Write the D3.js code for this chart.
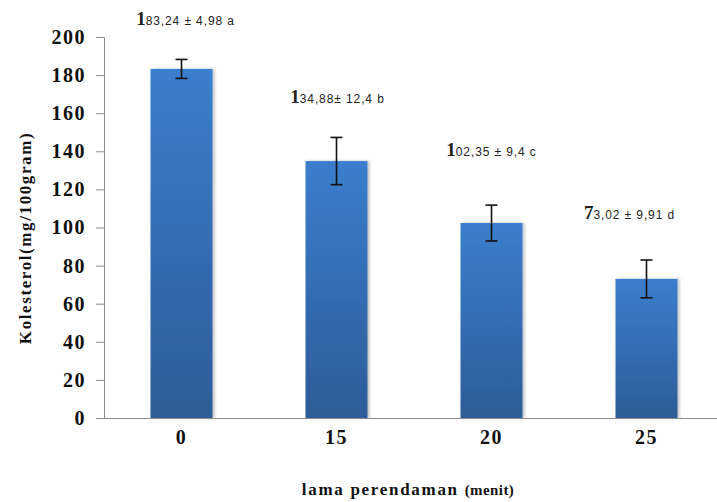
<!DOCTYPE html>
<html>
<head>
<meta charset="utf-8">
<script src="https://cdn.jsdelivr.net/npm/d3@7"></script>
<style>
	body { margin: 0; background: #fff; }
	.tick text { font-family: "Liberation Serif", serif; font-weight: bold; fill: #111; }
	.axis path, .axis line { stroke: #8c8c8c; }
</style>
</head>
<body>
<svg id="chart" width="717" height="502"></svg>
<script>
"use strict";

// Lama perendaman (menit) vs kolesterol
var categories = ["0", "15", "20", "25"];
var means = [183.24, 134.88, 102.35, 73.02];
var sds = [4.98, 12.4, 9.4, 9.91];
var letters = ["a", "b", "c", "d"];
// where the text annotation sits, in axis units
var labelAt = [209, 168, 140, 107];
var yTicks = [0, 20, 40, 60, 80, 100, 120, 140, 160, 180, 200];

var svg = d3.select("#chart");
var margin = {top: 37, left: 104, bottom: 84};
var height = +svg.attr("height") - margin.top - margin.bottom;

var x = d3.scaleBand()
	.domain(categories)
	.range([104, 724])
	.paddingInner(0.6)
	.paddingOuter(0.3);
var y = d3.scaleLinear()
	.domain([0, 200])
	.range([margin.top + height, margin.top]);

var defs = svg.append("defs");
var grad = defs.append("linearGradient")
	.attr("id", "barGrad")
	.attr("x1", 0).attr("y1", 0).attr("x2", 0).attr("y2", 1);
grad.append("stop").attr("offset", "0%").attr("stop-color", "#3b7ecd");
grad.append("stop").attr("offset", "100%").attr("stop-color", "#2d5c98");

var shadow = defs.append("filter").attr("id", "shadow")
	.attr("x", "-10%").attr("y", "-5%").attr("width", "125%").attr("height", "110%");
shadow.append("feDropShadow")
	.attr("dx", 2).attr("dy", 0).attr("stdDeviation", 1.5)
	.attr("flood-color", "#000").attr("flood-opacity", 0.25);

// Y axis
var yAxis = d3.axisLeft(y)
	.tickValues(yTicks)
	.tickSize(8)
	.tickPadding(10);
svg.append("g")
	.attr("class", "axis")
	.attr("transform", "translate(" + margin.left + ",0)")
	.call(yAxis)
	.call(function(g) {
		g.selectAll("text").style("font-size", "20px").style("letter-spacing", "1.5px");
	});

// Bars
svg.selectAll("rect.bar")
	.data(means)
	.enter()
	.append("rect")
	.attr("class", "bar")
	.attr("x", function(d, i) { return x(categories[i]); })
	.attr("y", function(d) { return y(d); })
	.attr("width", x.bandwidth())
	.attr("height", function(d) { return y(0) - y(d); })
	.attr("fill", "url(#barGrad)")
	.attr("filter", "url(#shadow)");

// X axis (no category ticks, just the baseline)
var xAxis = d3.axisBottom(x)
	.tickSize(0)
	.tickPadding(12);
svg.append("g")
	.attr("class", "axis")
	.attr("transform", "translate(0," + y(0) + ")")
	.call(xAxis)
	.call(function(g) {
		g.select(".domain").attr("d", "M" + (margin.left - 8) + ",0.5H724");
		g.selectAll("text").style("font-size", "20px").style("letter-spacing", "1.5px");
	});

// Error bars
var errs = svg.selectAll("g.err")
	.data(means)
	.enter()
	.append("g")
	.attr("class", "err")
	.attr("stroke", "#111")
	.attr("stroke-width", 1.6);
errs.each(function(d, i) {
	var g = d3.select(this);
	var cx = x(categories[i]) + x.bandwidth() / 2;
	var lo = y(d - sds[i]), hi = y(d + sds[i]);
	g.append("line").attr("x1", cx).attr("x2", cx).attr("y1", lo).attr("y2", hi);
	g.append("line").attr("x1", cx - 6).attr("x2", cx + 6).attr("y1", lo).attr("y2", lo);
	g.append("line").attr("x1", cx - 6).attr("x2", cx + 6).attr("y1", hi).attr("y2", hi);
});

// Mean ± sd annotations: the first digit is set larger than the rest
var fmt = function(v, dec) { return v.toFixed(dec).replace(".", ","); };
// the last text box sits a bit left of its bar in the original
var nudge = [4, 1, 0, -17];
var notes = svg.selectAll("text.note")
	.data(means)
	.enter()
	.append("text")
	.attr("class", "note")
	.attr("x", function(d, i) { return x(categories[i]) + x.bandwidth() / 2 + nudge[i]; })
	.attr("y", function(d, i) { return y(labelAt[i]) + 5; })
	.attr("text-anchor", "middle")
	.attr("fill", "#222");
notes.append("tspan")
	.style("font-family", "Liberation Serif, serif")
	.style("font-weight", "bold")
	.style("font-size", "19px")
	.text(function(d) { return fmt(d, 2).charAt(0); });
notes.append("tspan")
	.style("font-family", "Liberation Sans, sans-serif")
	.style("font-size", "12px")
	.style("letter-spacing", "0.9px")
	.text(function(d, i) {
		var s = fmt(d, 2).slice(1);
		var sd = String(sds[i]).replace(".", ",");
		return s + (i === 1 ? "\u00b1 " : " \u00b1 ") + sd + " " + letters[i];
	});

// Axis titles
svg.append("text")
	.attr("transform", "translate(31,238) rotate(-90)")
	.attr("text-anchor", "middle")
	.style("font-family", "Liberation Serif, serif")
	.style("font-weight", "bold")
	.style("font-size", "17px")
	.style("letter-spacing", "1.6px")
	.attr("fill", "#111")
	.text("Kolesterol(mg/100gram)");

var xTitle = svg.append("text")
	.attr("x", 408)
	.attr("y", 495)
	.attr("text-anchor", "middle")
	.style("font-family", "Liberation Serif, serif")
	.style("font-weight", "bold")
	.attr("fill", "#111");
xTitle.append("tspan").style("font-size", "17px").style("letter-spacing", "1.7px").text("lama perendaman ");
xTitle.append("tspan").style("font-size", "15px").style("letter-spacing", "0.4px").text("(menit)");
</script>
</body>
</html>
